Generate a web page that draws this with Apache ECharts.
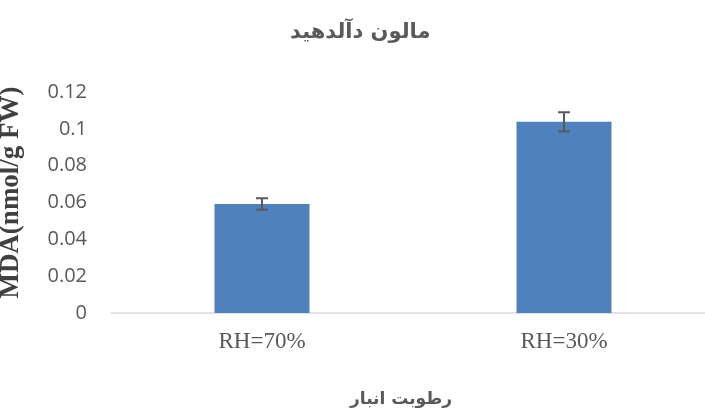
<!DOCTYPE html>
<html>
<head>
<meta charset="utf-8">
<script src="https://cdn.jsdelivr.net/npm/echarts@6/dist/echarts.min.js"></script>
<style>
  html, body { margin: 0; padding: 0; background: #fff; }
  #chart { width: 705px; height: 413px; }
</style>
</head>
<body>
<div id="chart"></div>
<script>
const categories = ['RH=70%', 'RH=30%'];
const mdaValues = [0.0592, 0.1038];
const mdaErrors = [0.0031, 0.0052];

const chart = echarts.init(document.getElementById('chart'));

// error bar data: [category index, low, high]
const errorData = mdaValues.map((v, i) => [i, v - mdaErrors[i], v + mdaErrors[i]]);

const option = {
  animation: false,
  title: {
    text: 'مالون دآلدهید',
    left: 285,
    top: 17,
    textStyle: {
      fontFamily: 'DejaVu Sans',
      fontSize: 21,
      fontWeight: 'bold',
      color: '#595959'
    }
  },
  grid: {
    left: 111,
    top: 92,
    width: 604,
    height: 221,
    containLabel: false,
    outerBoundsMode: 'none'
  },
  xAxis: {
    type: 'category',
    data: categories,
    name: 'رطوبت انبار',
    nameLocation: 'middle',
    nameGap: 78,
    nameTextStyle: {
      fontFamily: 'DejaVu Sans',
      fontSize: 17,
      fontWeight: 'bold',
      color: '#595959',
      padding: [0, 24, 0, 0]
    },
    axisLine: { lineStyle: { color: '#d9d9d9', width: 1.5 } },
    axisTick: { show: false },
    axisLabel: {
      margin: 17,
      fontFamily: 'Liberation Serif',
      fontSize: 23,
      color: '#595959'
    }
  },
  yAxis: {
    type: 'value',
    min: 0,
    max: 0.12,
    interval: 0.02,
    name: 'MDA(nmol/g FW)',
    nameLocation: 'middle',
    nameGap: 86,
    nameRotate: 90,
    nameTextStyle: {
      fontFamily: 'Liberation Serif',
      fontSize: 27,
      fontWeight: 'bold',
      color: '#404040',
      padding: [0, 0, 0, 20]
    },
    axisLine: { show: false },
    axisTick: { show: false },
    splitLine: { show: false },
    axisLabel: {
      margin: 24,
      fontFamily: 'Open Sans',
      fontSize: 20,
      color: '#595959',
      formatter: v => String(Math.round(v * 100) / 100)
    }
  },
  series: [
    {
      type: 'bar',
      data: mdaValues,
      barWidth: 95,
      itemStyle: { color: '#4f81bd' }
    },
    {
      type: 'custom',
      data: errorData,
      z: 10,
      renderItem: function (params, api) {
        const x = api.coord([api.value(0), api.value(1)])[0];
        const low = api.coord([api.value(0), api.value(1)])[1];
        const high = api.coord([api.value(0), api.value(2)])[1];
        const half = 6;
        const style = { stroke: '#595959', lineWidth: 2 };
        return {
          type: 'group',
          children: [
            { type: 'line', shape: { x1: x, y1: high, x2: x, y2: low }, style: style },
            { type: 'line', shape: { x1: x - half, y1: high, x2: x + half, y2: high }, style: style },
            { type: 'line', shape: { x1: x - half, y1: low, x2: x + half, y2: low }, style: style }
          ]
        };
      }
    }
  ]
};

chart.setOption(option);
</script>
</body>
</html>
